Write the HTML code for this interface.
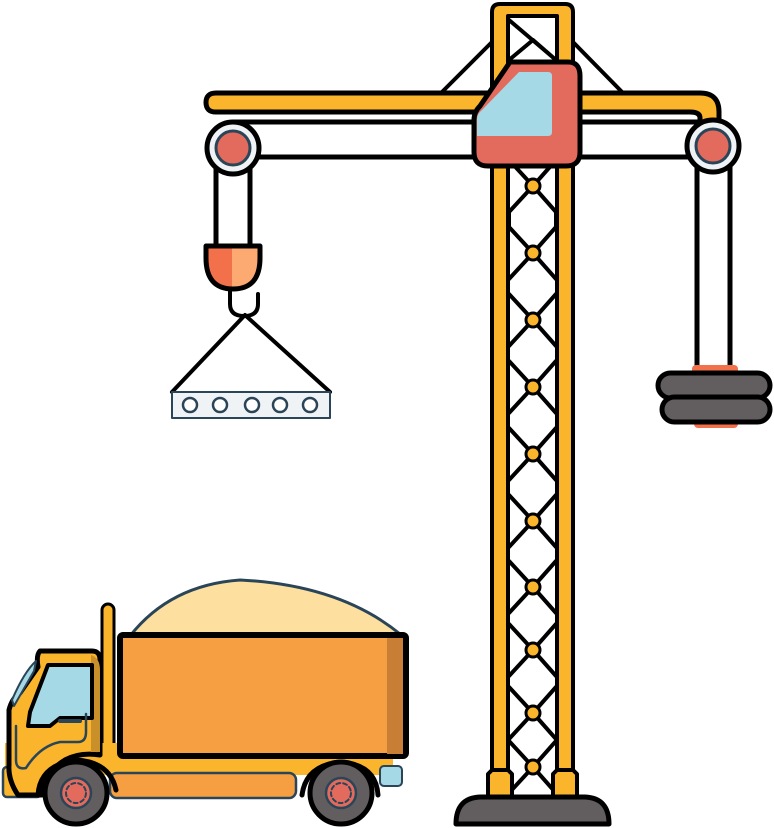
<!DOCTYPE html>
<html><head><meta charset="utf-8"><style>html,body{margin:0;padding:0;background:#fff}svg{display:block}</style></head><body>
<svg width="774" height="828" viewBox="0 0 774 828" xmlns="http://www.w3.org/2000/svg">
<g stroke="#000" stroke-linejoin="round" stroke-linecap="round">
<!-- support cables -->
<line x1="440" y1="94" x2="494" y2="40" stroke-width="4"/>
<line x1="624" y1="94" x2="571" y2="40" stroke-width="4"/>
<!-- tower lattice -->
<g stroke-width="4" fill="none">
<path d="M509 60 L533 40 L556 60 M509 20 L556 60"/>
<path d="M509 160 L533 186 L556 160 M509 212 L533 186 L556 212
M509 227 L533 253 L556 227 M509 279 L533 253 L556 279
M509 294 L533 320 L556 294 M509 346 L533 320 L556 346
M509 361 L533 387 L556 361 M509 413 L533 387 L556 413
M509 428 L533 454 L556 428 M509 480 L533 454 L556 480
M509 495 L533 521 L556 495 M509 547 L533 521 L556 547
M509 561 L533 587 L556 561 M509 613 L533 587 L556 613
M509 624 L533 650 L556 624 M509 676 L533 650 L556 676
M509 687 L533 713 L556 687 M509 739 L533 713 L556 739
M509 741 L533 767 L556 741 M509 793 L533 767 L556 793"/>
<path d="M509 212 L509 227 M556 212 L556 227"/>
</g>
<g fill="#fbb52c" stroke-width="3">
<circle cx="533" cy="186" r="7"/><circle cx="533" cy="253" r="7"/><circle cx="533" cy="320" r="7"/><circle cx="533" cy="387" r="7"/><circle cx="533" cy="454" r="7"/><circle cx="533" cy="521" r="7"/><circle cx="533" cy="587" r="7"/><circle cx="533" cy="650" r="7"/><circle cx="533" cy="713" r="7"/><circle cx="533" cy="767" r="7"/>
</g>
<!-- tower legs -->
<path d="M492 798 V12 Q492 4 500 4 H565 Q573 4 573 12 V798 H557 V16 H508 V798 Z" fill="#fbb52c" stroke-width="4"/>
<path d="M488 798 V774 L492 770 H508 L512 774 V798 Z" fill="#fbb52c" stroke-width="4"/>
<path d="M553 798 V774 L557 770 H573 L577 774 V798 Z" fill="#fbb52c" stroke-width="4"/>
<!-- base -->
<path d="M456 824 Q456 798 480 797 H585 Q609 798 609 824 Z" fill="#625d5f" stroke-width="5"/>
<!-- jib -->
<path d="M216 93 H700 Q719 93 719 112 V140 H700 V118 Q700 112 690 112 H216 Q206 112 206 102.5 Q206 93 216 93 Z" fill="#fbb52c" stroke-width="5"/>
<rect x="233" y="122" width="480" height="35" fill="#fff" stroke-width="5"/>
<!-- left rope & hook -->
<rect x="216" y="148" width="34" height="100" fill="#fff" stroke-width="5"/>
<circle cx="233" cy="148" r="26" fill="#f0f3f5" stroke-width="5"/>
<circle cx="233" cy="148" r="17" fill="#e26b5e" stroke="#2b4558" stroke-width="3"/>
<path d="M206 246 H260 V258 Q260 289 233 289 Q206 289 206 258 Z" fill="#fcaa72" stroke="none"/>
<path d="M206 246 H232 V289 Q206 289 206 258 Z" fill="#f2704a" stroke="none"/>
<path d="M206 246 H260 V258 Q260 289 233 289 Q206 289 206 258 Z" fill="none" stroke-width="5"/>
<path d="M230 290 V304 Q230 316 244 316 Q258 316 258 304 V294" fill="none" stroke-width="4"/>
<path d="M172 392 L245 315 L330 392" fill="none" stroke-width="4"/>
<rect x="172" y="392" width="158" height="26" fill="#f0f3f5" stroke="#2b4558" stroke-width="2"/>
<g fill="#fff" stroke="#2b4558" stroke-width="2.5">
<circle cx="190" cy="405" r="7"/><circle cx="220" cy="405" r="7"/><circle cx="252" cy="405" r="7"/><circle cx="280" cy="405" r="7"/><circle cx="310" cy="405" r="7"/>
</g>
<!-- right rope & weights -->
<rect x="697" y="150" width="33" height="225" fill="#fff" stroke-width="5"/>
<circle cx="713" cy="146" r="26" fill="#f0f3f5" stroke-width="5"/>
<circle cx="713" cy="146" r="17" fill="#e26b5e" stroke="#2b4558" stroke-width="3"/>
<rect x="692" y="365" width="46" height="12" rx="4" fill="#f2704a" stroke="none"/>
<rect x="694" y="415" width="44" height="13" rx="4" fill="#f2704a" stroke="none"/>
<rect x="658" y="373" width="112" height="25" rx="12.5" fill="#625d5f" stroke-width="5"/>
<rect x="662" y="397" width="108" height="25" rx="12.5" fill="#625d5f" stroke-width="5"/>
<!-- cab -->
<path d="M510 62 H568 Q580 62 580 76 V152 Q580 166 566 166 H488 Q474 166 474 152 V120 Q474 112 480 106 Z" fill="#e26b5e" stroke-width="5"/>
<path d="M519 72 H548 Q552 72 552 76 V132 Q552 136 548 136 H477 V119 Q477 114 482 110 Z" fill="#a6d9e6" stroke="none"/>
<!-- truck -->
<path d="M130 636 Q170 585 240 580 Q340 585 400 634 Z" fill="#fde0a0" stroke="#2b4558" stroke-width="3"/>
<rect x="102" y="604" width="12" height="145" rx="6" fill="#fbb52c" stroke-width="3"/>
<rect x="5" y="743" width="388" height="32" fill="#fbb52c" stroke="none"/>
<rect x="3" y="767" width="38" height="30" rx="4" fill="#fbb52c" stroke="#2b4558" stroke-width="2.5"/>
<rect x="13" y="784" width="14" height="7" rx="3.5" fill="#625d5f" stroke="#2b4558" stroke-width="1.5"/>
<rect x="110" y="773" width="186" height="25" rx="7" fill="#f69f42" stroke="#2b4558" stroke-width="2.5"/>
<rect x="380" y="766" width="22" height="20" rx="4" fill="#a6d9e6" stroke="#2b4558" stroke-width="2"/>
<rect x="120" y="635" width="286" height="121" rx="3" fill="#f69f42" stroke-width="6"/>
<rect x="387" y="638" width="16" height="116" fill="#c87e35" stroke="none"/>
<path d="M40 651 H92 Q100 651 100 660 V755 Q80 752 65 760 Q45 772 42 795 H18 Q8 780 9 765 V710 Q12 698 20 693 L38 667 Q36 655 40 651 Z" fill="#fbb52c" stroke-width="5"/>
<path d="M91 655 Q100 658 100 670 V752 H91 Z" fill="#c9902a" stroke="none"/>
<path d="M48 665 H92 V718 H60 L50 726 H28 L30 712 Z" fill="#a6d9e6" stroke-width="4"/>
<path d="M14 706 L34 671 L36 661 Q24 672 12 700 Z" fill="#a6d9e6" stroke="#2b4558" stroke-width="2"/>
<line x1="60" y1="721" x2="80" y2="721" stroke="#2b4558" stroke-width="4"/>
<path d="M16 726 V760 Q16 770 26 768 Q40 746 60 742 H78 Q86 742 86 732 V714" fill="none" stroke="#2b4558" stroke-width="2.5"/>
<path d="M38 795 Q40 765 76 760 Q110 762 116 790" fill="none" stroke-width="5"/>
<path d="M302 795 Q306 765 341 762 Q376 765 378 795" fill="none" stroke-width="5"/>
<circle cx="76" cy="793" r="31" fill="#625d5f" stroke-width="5"/>
<circle cx="76" cy="793" r="15" fill="#e26b5e" stroke="#2b4558" stroke-width="2.5"/>
<circle cx="76" cy="793" r="10" fill="none" stroke="#2b4558" stroke-width="2" stroke-dasharray="4 3"/>
<circle cx="341" cy="793" r="31" fill="#625d5f" stroke-width="5"/>
<circle cx="341" cy="793" r="15" fill="#e26b5e" stroke="#2b4558" stroke-width="2.5"/>
<circle cx="341" cy="793" r="10" fill="none" stroke="#2b4558" stroke-width="2" stroke-dasharray="4 3"/>
</g>
</svg>
</body></html>
